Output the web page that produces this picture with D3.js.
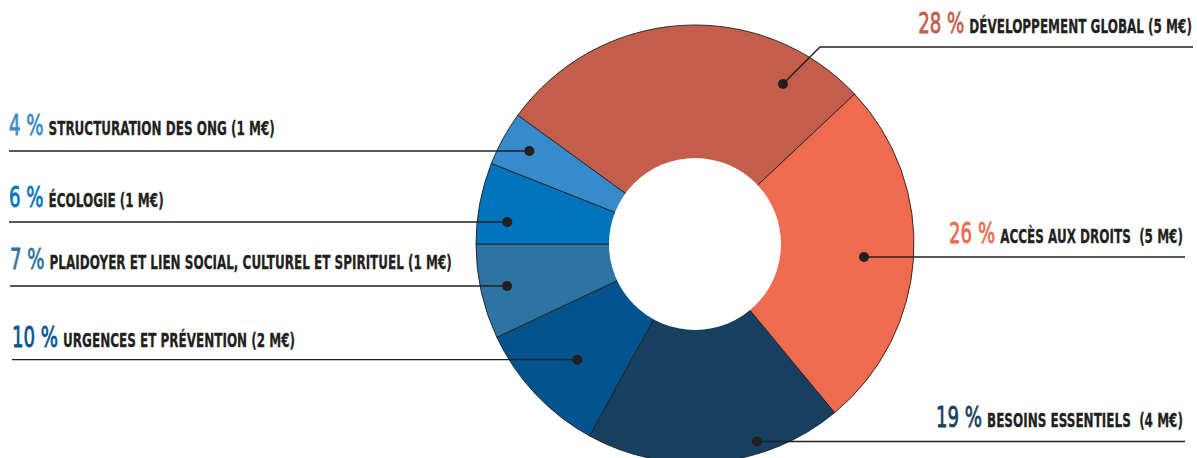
<!DOCTYPE html>
<html><head><meta charset="utf-8">
<script src="https://cdn.jsdelivr.net/npm/d3@7"></script>
<style>
html,body{margin:0;padding:0;background:#fff;}
svg{display:block;}
</style></head>
<body>
<svg id="chart" width="1197" height="458"></svg>
<script>
const categories = ["Développement global","Accès aux droits","Besoins essentiels","Urgences et prévention","Plaidoyer et lien social, culturel et spirituel","Écologie","Structuration des ONG"];
const percents = [28,26,19,10,7,6,4];
const amounts = ["5 M€","5 M€","4 M€","2 M€","1 M€","1 M€","1 M€"];
const colors = ["#C25E4A","#EE6B50","#173F5F","#03538F","#2E74A3","#0074BC","#378BCB"];

// label layout: side, angle (deg) & radius of leader dot, baseline y of label, line y, line end x, text anchor x
const layout = [
  {side:"right", a:28.8, r:182.6, ty:33, ly:47, lx:1193, tx:1192, elbow:true, sep:" "},
  {side:"right", a:94.4, r:169.5, ty:243, ly:257, lx:1185, tx:1183, sep:"  "},
  {side:"right", a:162.6, r:207, ty:427, ly:442, lx:1185, tx:1183, sep:"  "},
  {side:"left", a:225.5, r:165, ty:347, ly:359.5, lx:12, tx:12, sep:" "},
  {side:"left", a:257.4, r:192.6, ty:269, ly:285.7, lx:10, tx:10, sep:" "},
  {side:"left", a:276.7, r:189, ty:207, ly:221.7, lx:9, tx:9, sep:" "},
  {side:"left", a:299.3, r:190, ty:135, ly:150.7, lx:9, tx:9, sep:" "}
];

const svg = d3.select("#chart");
const cx = 695, cy = 244, R = 219, r0 = 86;
const g = svg.append("g").attr("transform",`translate(${cx},${cy})`);

const data = categories.map((c,i)=>({cat:c, pct:percents[i], amt:amounts[i], color:colors[i], lay:layout[i]}));
const pie = d3.pie().sort(null).value(d=>d.pct).startAngle(-54*Math.PI/180).endAngle(306*Math.PI/180);
const arc = d3.arc().innerRadius(0).outerRadius(R);
g.selectAll("path.slice").data(pie(data)).join("path")
  .attr("class","slice")
  .attr("d",arc)
  .attr("fill",d=>d.data.color)
  .attr("stroke","#231F20").attr("stroke-width",0.9);
g.append("circle").attr("r",r0).attr("fill","#fff");

const pos = (a,rr)=>{const t=a*Math.PI/180; return [cx+rr*Math.sin(t), cy-rr*Math.cos(t)];};

const KP = 0.66, KL = 0.6, GAP = 5;
const ann = svg.append("g");
data.forEach(d=>{
  const L = d.lay;
  const [dx,dy] = pos(L.a,L.r);
  let pts;
  if(L.elbow){
    const ex = dx + (dy - L.ly);
    pts = [[dx,dy],[ex,L.ly],[L.lx,L.ly]];
  } else {
    pts = [[L.lx,dy],[dx,dy]];
  }
  ann.append("path").attr("d",d3.line()(pts)).attr("fill","none")
    .attr("stroke","#231F20").attr("stroke-width",1.4);
  ann.append("circle").attr("cx",dx).attr("cy",dy).attr("r",5).attr("fill","#231F20");

  const gp = ann.append("g"), gl = ann.append("g");
  const tp = gp.append("text").text(d.pct+" %")
    .style("white-space","pre").style("font-family","'DejaVu Sans',sans-serif")
    .attr("fill",d.color).attr("stroke",d.color).attr("stroke-width",0.8)
    .attr("font-size",27.5).attr("font-weight","normal");
  const tl = gl.append("text").text((d.cat+L.sep+"("+d.amt+")").toUpperCase())
    .style("white-space","pre").style("font-family","'DejaVu Sans',sans-serif")
    .attr("fill","#231F20").attr("stroke","#231F20").attr("stroke-width",0.3)
    .attr("font-size",20).attr("font-weight","bold");
  const wP = tp.node().getComputedTextLength()*KP;
  const wL = tl.node().getComputedTextLength()*KL;
  let xP, xL;
  if(L.side==="left"){ xP = L.tx; xL = L.tx + wP + GAP; }
  else { xL = L.tx - wL; xP = xL - GAP - wP; }
  gp.attr("transform",`translate(${xP},${L.ty}) scale(${KP},1)`);
  gl.attr("transform",`translate(${xL},${L.ty}) scale(${KL},1)`);
});
</script>
</body></html>
